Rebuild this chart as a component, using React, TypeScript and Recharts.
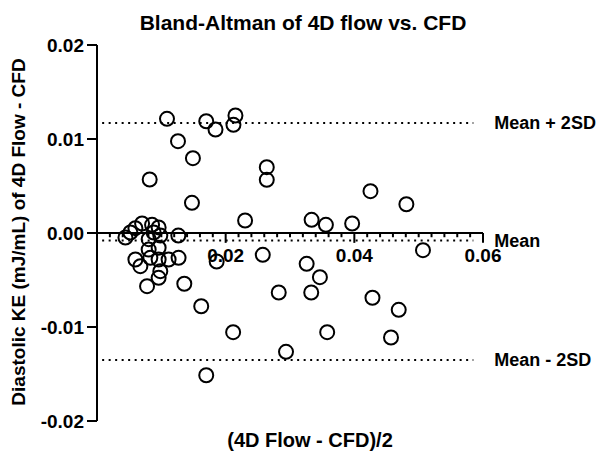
import React from 'react';
import { ScatterChart, Scatter, XAxis, YAxis, ReferenceLine } from 'recharts';

// (4D Flow - CFD)/2 on x, difference on y
const avgValues = [
  0.01088, 0.01698, 0.01842, 0.02152, 0.02121, 0.01259, 0.01491, 0.00819, 0.02639, 0.02639,
  0.01476, 0.02302, 0.04251, 0.04809, 0.03336, 0.03558, 0.03966, 0.05067, 0.02577, 0.03259,
  0.03465, 0.02825, 0.0333, 0.04282, 0.0469, 0.03578, 0.0457, 0.02938, 0.0186, 0.01357,
  0.0162, 0.02116, 0.01698, 0.01264, 0.00442, 0.00519, 0.00597, 0.00701, 0.00856, 0.00958,
  0.00881, 0.00803, 0.00984, 0.00803, 0.00958, 0.00597, 0.00674, 0.00829, 0.00958, 0.01113,
  0.01268, 0.00984, 0.00958, 0.00778,
];
const diffValues = [
  0.01215, 0.01189, 0.01101, 0.0125, 0.01151, 0.00977, 0.00796, 0.00569, 0.007, 0.00566,
  0.00321, 0.00133, 0.00445, 0.00306, 0.0014, 0.00087, 0.00101, -0.00183, -0.00232, -0.00328,
  -0.0047, -0.00633, -0.00633, -0.00689, -0.00817, -0.01055, -0.01112, -0.01264, -0.00303, -0.0054,
  -0.00779, -0.01055, -0.01513, -0.00027, -0.00048, 0.00005, 0.00051, 0.00101, 0.00087, 0.00059,
  0.00005, -0.00066, -0.00027, -0.00176, -0.00157, -0.00282, -0.00353, -0.00264, -0.00282, -0.00282,
  -0.00264, -0.00406, -0.00477, -0.00566,
];

const yTicks = [-0.02, -0.01, 0, 0.01, 0.02];
const xMajorTicks = [0.02, 0.04, 0.06];
const xMinorTicks = [
  0.002, 0.004, 0.006, 0.008, 0.01, 0.012, 0.014, 0.016, 0.018, 0.022, 0.024, 0.026, 0.028,
  0.03, 0.032, 0.034, 0.036, 0.038, 0.042, 0.044, 0.046, 0.048, 0.05, 0.052, 0.054, 0.056, 0.058,
];

const limitValues = [0.0117, -0.0008, -0.0135];
const limitLabels = ['Mean + 2SD', 'Mean', 'Mean - 2SD'];

const data = avgValues.map((x, i) => ({ x, y: diffValues[i] }));

const FONT = 'Arial, "Liberation Sans", Helvetica, sans-serif';
const textStyle = { fill: '#000', fontSize: 19, fontWeight: 700, fontFamily: FONT };

const OpenCircle = (props: any) => (
  <circle cx={props.cx} cy={props.cy} r={7} fill="none" stroke="#000" strokeWidth={2} />
);

export default function App() {
  return (
    <div style={{ position: 'absolute', left: 0, top: 0, width: 605, height: 454, background: '#fff' }}>
      <ScatterChart width={605} height={454} margin={{ top: 45, right: 122, bottom: 33, left: 0 }}>
        <text x={303} y={30} textAnchor="middle" style={{ ...textStyle, fontSize: 21 }}>
          Bland-Altman of 4D flow vs. CFD
        </text>
        <text transform="translate(25,232) rotate(-90)" textAnchor="middle" style={{ ...textStyle, fontSize: 19 }}>
          Diastolic KE (mJ/mL) of 4D Flow - CFD
        </text>
        <text x={310} y={447} textAnchor="middle" style={{ ...textStyle, fontSize: 20 }}>
          (4D Flow - CFD)/2
        </text>
        <XAxis type="number" dataKey="x" domain={[0, 0.06]} hide height={0} />
        <YAxis
          type="number"
          dataKey="y"
          domain={[-0.02, 0.02]}
          ticks={yTicks}
          width={97}
          tickFormatter={(v: number) => v.toFixed(2)}
          axisLine={{ stroke: '#000', strokeWidth: 2 }}
          tickLine={{ stroke: '#000', strokeWidth: 2 }}
          tickSize={10}
          tickMargin={3}
          tick={textStyle}
        />
        {limitValues.map((v, i) => (
          <ReferenceLine
            key={'lim' + i}
            segment={[{ x: 0.0008, y: v }, { x: 0.0585, y: v }]}
            stroke="#000"
            strokeWidth={2}
            strokeDasharray="2 4.5"
            ifOverflow="visible"
            label={{ value: limitLabels[i], position: 'right', offset: 21, ...textStyle, fontSize: 18 }}
          />
        ))}
        <ReferenceLine
          segment={[{ x: 0, y: 0 }, { x: 0.06, y: 0 }]}
          stroke="#000"
          strokeWidth={2}
          ifOverflow="visible"
        />
        {xMinorTicks.map((t) => (
          <ReferenceLine
            key={'mi' + t}
            segment={[{ x: t, y: 0 }, { x: t, y: -0.00045 }]}
            stroke="#000"
            strokeWidth={2}
            ifOverflow="visible"
          />
        ))}
        {xMajorTicks.map((t) => (
          <ReferenceLine
            key={'ma' + t}
            segment={[{ x: t, y: 0 }, { x: t, y: -0.00105 }]}
            stroke="#000"
            strokeWidth={2}
            ifOverflow="visible"
            label={{ value: t.toFixed(2), position: 'bottom', offset: 6, ...textStyle }}
          />
        ))}
        <Scatter data={data} shape={OpenCircle} isAnimationActive={false} />
      </ScatterChart>
    </div>
  );
}
